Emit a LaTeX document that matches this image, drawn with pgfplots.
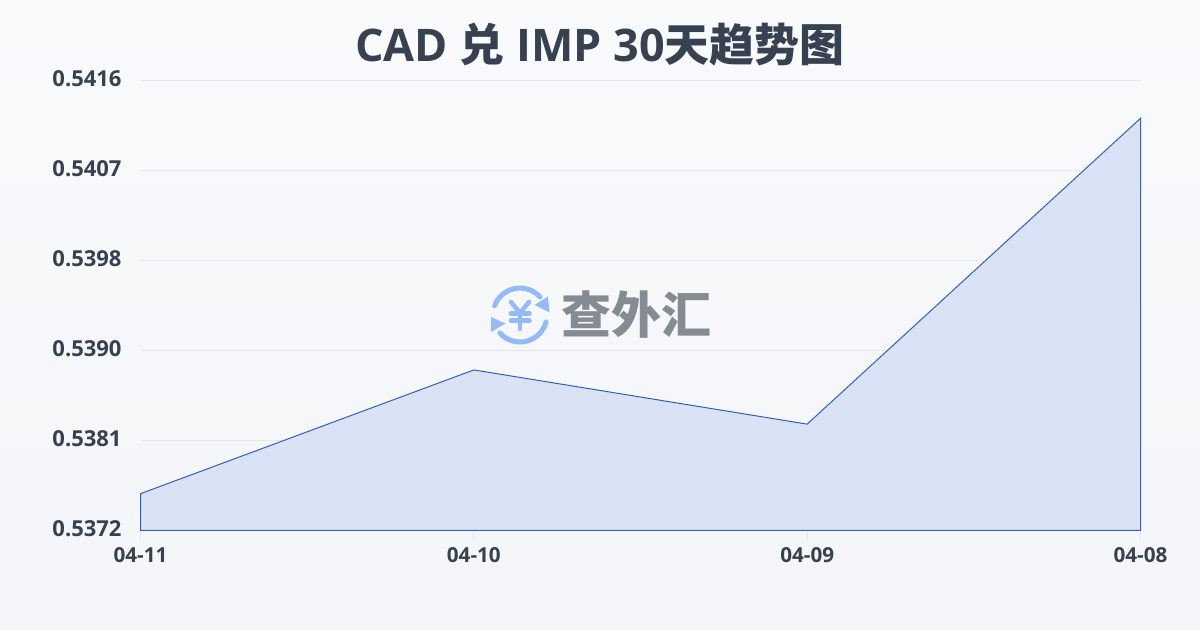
\documentclass[border=0pt]{standalone}
\usepackage{pgfplots}
\usepackage{fontspec}
\pgfplotsset{compat=1.18}
\setmainfont{Open Sans}
\newfontfamily\cjk{Noto Sans CJK SC}
\definecolor{bgtop}{HTML}{F8FAFC}
\definecolor{bgbot}{HTML}{F3F5F8}
\definecolor{ink}{HTML}{374151}
\definecolor{gridc}{HTML}{E5E7EB}
\definecolor{linec}{HTML}{2F5FC4}
\definecolor{areac}{HTML}{DAE3F6}
\definecolor{logoc}{HTML}{93BBFA}
\definecolor{markc}{HTML}{868A93}
\begin{document}
\begin{tikzpicture}
\begin{scope}[x=0.75pt,y=-0.75pt]
\useasboundingbox (0,0) rectangle (1200,630);
\shade[top color=bgtop,bottom color=bgbot] (0,0) rectangle (1200,630);
\node[font=\bfseries\fontsize{33.7pt}{36pt}\selectfont,text=ink,anchor=center] at (600,45) {CAD {\cjk\bfseries 兑} IMP 30{\cjk\bfseries 天趋势图}};
\end{scope}
\begin{axis}[
  at={(105.375pt,-397.875pt)},anchor=south west,
  scale only axis,width=750pt,height=337.5pt,
  xmin=0,xmax=3,ymin=0.5372,ymax=0.5416,
  clip=false,
  axis line style={draw=none},
  tick align=outside,
  xtick pos=lower,ytick pos=left,
  xtick={0,1,2,3},xticklabels={\textbf{04-11},\textbf{04-10},\textbf{04-09},\textbf{04-08}},
  ytick={0.5372,0.53808,0.53896,0.53984,0.54072,0.5416},
  yticklabels={\textbf{0.5372},\textbf{0.5381},\textbf{0.5390},\textbf{0.5398},\textbf{0.5407},\textbf{0.5416}},
  ymajorgrids,
  grid style={gridc,line width=0.75pt},
  major tick style={gridc,line width=0.75pt},
  major tick length=7.5pt,
  ytick style={draw=none},
  xticklabel style={font=\fontsize{15.5pt}{17pt}\selectfont,text=ink,yshift=-1.5pt},
  yticklabel style={font=\fontsize{16.5pt}{18pt}\selectfont,text=ink,anchor=east,xshift=-3.2pt,yshift=1.6pt},
]
\addplot[draw=linec,line width=0.75pt,fill=areac] coordinates {
  (0,0.53756) (1,0.53877) (2,0.53824) (3,0.54123)
} -- (axis cs:3,0.5372) -- (axis cs:0,0.5372) -- cycle;
\end{axis}
% watermark
\begin{scope}[x=0.75pt,y=-0.75pt]
\begin{scope}[logoc,line width=3.8pt,line cap=round]
\draw (494.6,305.8) arc[start angle=200,end angle=318,x radius=27,y radius=27];
\draw (546.1,322) arc[start angle=15,end angle=138,x radius=27,y radius=27];
\fill (548,296.5) -- (549.5,312.5) -- (534.5,305) -- cycle;
\fill (491,317) -- (491,332) -- (505.5,323.5) -- cycle;
\end{scope}
\begin{scope}[logoc,line cap=round,line join=round,line width=3.4pt]
\draw (511,302) -- (520,313) -- (529,302);
\draw (520,313) -- (520,329);
\draw (511,313.5) -- (529.5,313.5);
\draw (511,320.5) -- (529.5,320.5);
\end{scope}
\node[font=\cjk\bfseries\fontsize{37.5pt}{40pt}\selectfont,text=markc,anchor=center] at (636,315) {查外汇};
\end{scope}
\end{tikzpicture}
\end{document}
